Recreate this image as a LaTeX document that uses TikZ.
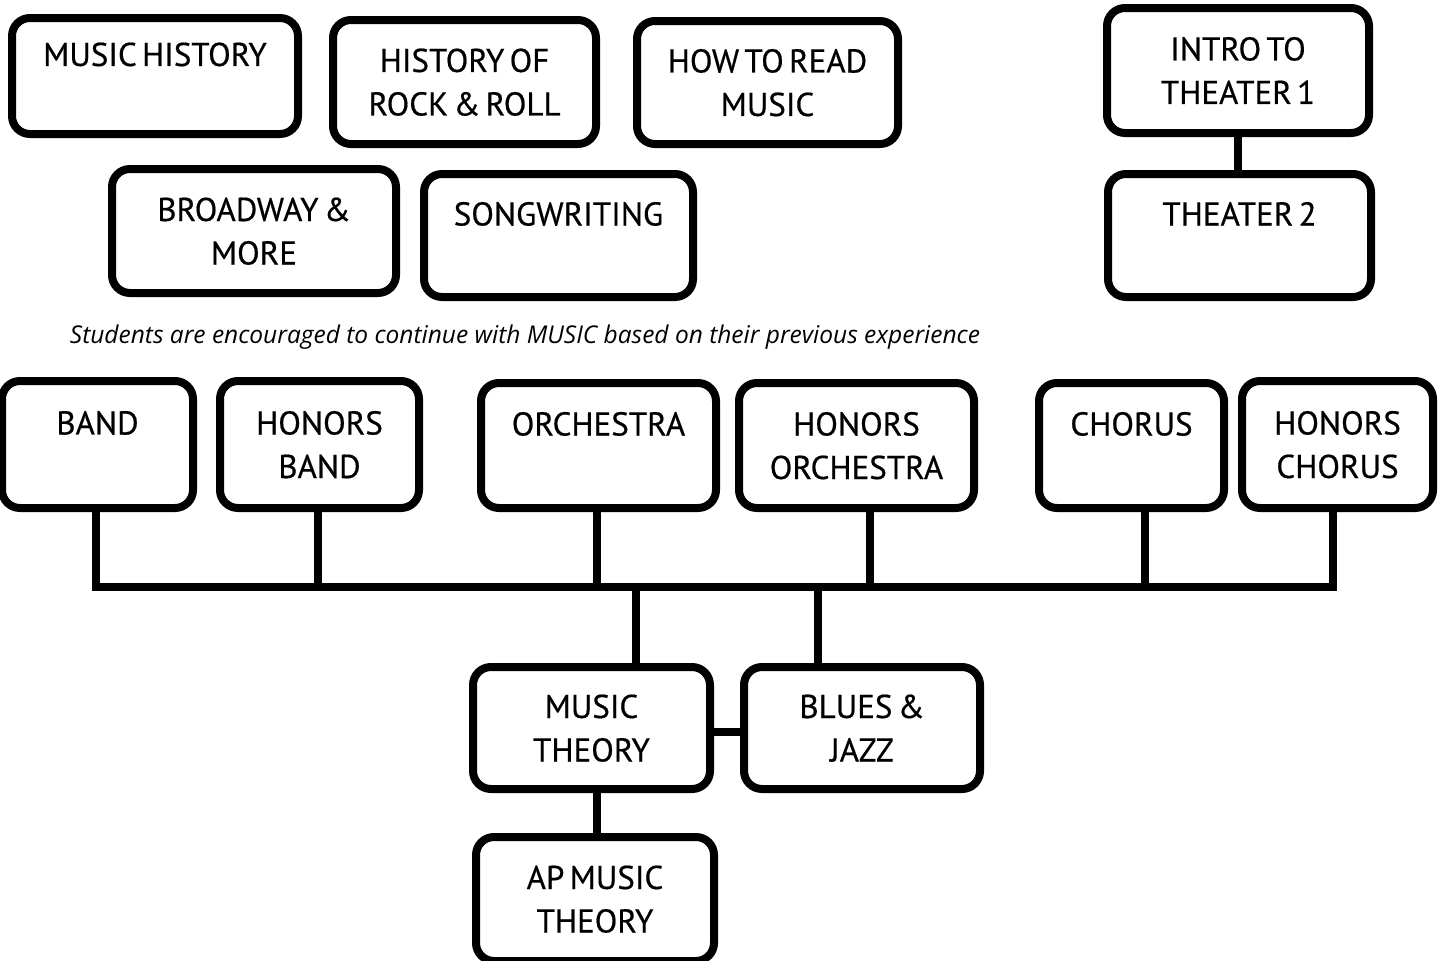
\documentclass[tikz,border=0pt]{standalone}
\usepackage{fontspec}
\setmainfont[FakeBold=0.5, WordSpace=0.6]{PT Sans}
\newfontfamily\capfont{Open Sans}
\begin{document}
\begin{tikzpicture}[x=1pt,y=-1pt,
  box/.style={draw=black, line width=8pt, rounded corners=18pt, fill=white,
    align=center, font=\fontsize{33}{43.5}\selectfont, inner sep=0pt, text depth=0pt},
  conn/.style={draw=black, line width=8pt}]
\useasboundingbox (0,0) rectangle (1444,961);
\fill[white] (0,0) rectangle (1444,961);
% top groups
\node[box, minimum width=286pt, minimum height=116pt] (mh) at (155,76) {MUSIC HISTORY\\\mbox{}};
\node[box, minimum width=263pt, minimum height=124pt] (rock) at (464.5,82) {HISTORY OF\\ROCK \& ROLL};
\node[box, minimum width=261pt, minimum height=123pt] (read) at (767.5,82.5) {HOW TO READ\\MUSIC};
\node[box, minimum width=284pt, minimum height=124pt] (bway) at (254,231) {BROADWAY \&\\MORE};
\node[box, minimum width=269pt, minimum height=123pt] (song) at (558.5,235.5) {SONGWRITING\\\mbox{}};
\node[box, minimum width=262pt, minimum height=125pt] (th1) at (1238,70.5) {INTRO TO\\THEATER 1};
\node[box, minimum width=263pt, minimum height=123pt] (th2) at (1239.5,235.5) {THEATER 2\\\mbox{}};
\draw[conn] (th1.south) -- (th1.south |- th2.north);
% caption
\node[font=\capfont\itshape\fontsize{24.5}{30}\selectfont, inner sep=0pt] (cap) at (525,337) {Students are encouraged to continue with MUSIC based on their previous experience};
% ensemble row
\node[box, minimum width=191pt, minimum height=127pt] (band) at (97.5,444.5) {BAND\\\mbox{}};
\node[box, minimum width=199pt, minimum height=127pt] (hband) at (319.5,444.5) {HONORS\\BAND};
\node[box, minimum width=235pt, minimum height=125pt] (orch) at (598.5,445.5) {ORCHESTRA\\\mbox{}};
\node[box, minimum width=235pt, minimum height=125pt] (horch) at (856.5,445.5) {HONORS\\ORCHESTRA};
\node[box, minimum width=185pt, minimum height=125pt] (chorus) at (1131.5,445.5) {CHORUS\\\mbox{}};
\node[box, minimum width=191pt, minimum height=127pt] (hchorus) at (1337.5,444.5) {HONORS\\CHORUS};
% theory
\node[box, minimum width=237pt, minimum height=122pt] (mt) at (591.5,728) {MUSIC\\THEORY};
\node[box, minimum width=236pt, minimum height=122pt] (bj) at (862,728) {BLUES \&\\JAZZ};
\node[box, minimum width=238pt, minimum height=124pt] (ap) at (595,899) {AP MUSIC\\THEORY};
% bus
\coordinate (bus) at (0,587);
\draw[conn, line cap=rect] ([xshift=-1.5pt]band.south |- bus) -- ([xshift=-4.5pt]hchorus.south |- bus);
\draw[conn] ([xshift=-1.5pt]band.south) -- ([xshift=-1.5pt]band.south |- bus);
\draw[conn] ([xshift=-1.5pt]hband.south) -- ([xshift=-1.5pt]hband.south |- bus);
\draw[conn] ([xshift=-1.5pt]orch.south) -- ([xshift=-1.5pt]orch.south |- bus);
\draw[conn] ([xshift=13.5pt]horch.south) -- ([xshift=13.5pt]horch.south |- bus);
\draw[conn] ([xshift=13.5pt]chorus.south) -- ([xshift=13.5pt]chorus.south |- bus);
\draw[conn] ([xshift=-4.5pt]hchorus.south) -- ([xshift=-4.5pt]hchorus.south |- bus);
\draw[conn] ([xshift=44.5pt]mt.north |- bus) -- ([xshift=44.5pt]mt.north);
\draw[conn] ([xshift=-44pt]bj.north |- bus) -- ([xshift=-44pt]bj.north);
\draw[conn] ([yshift=-4pt]mt.east) -- ([yshift=-4pt]bj.west);
\draw[conn] ([xshift=5.5pt]mt.south) -- ([xshift=5.5pt]mt.south |- ap.north);
\end{tikzpicture}
\end{document}
